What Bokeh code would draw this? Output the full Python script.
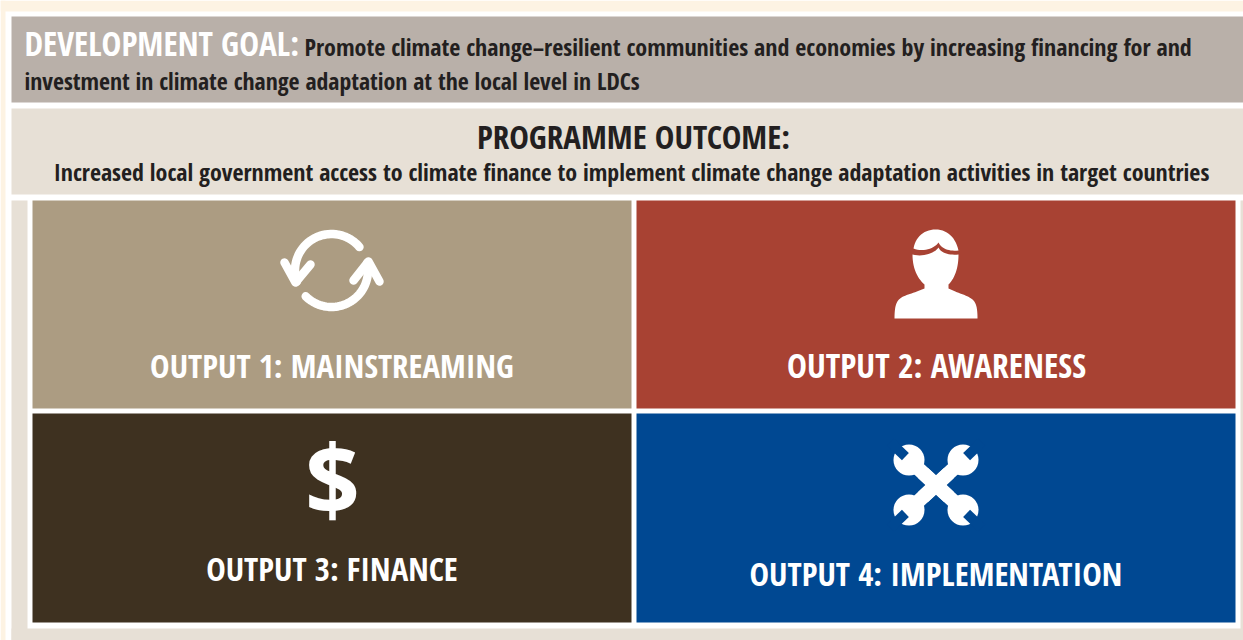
from math import cos, sin, radians
from bokeh.plotting import figure
from bokeh.embed import file_html
from bokeh.resources import INLINE
from bokeh.core.properties import value
from bokeh.models import Range1d

W, H = 1243, 640
FONT = value("Open Sans Condensed")

output_labels = ["OUTPUT 1: MAINSTREAMING", "OUTPUT 2: AWARENESS", "OUTPUT 3: FINANCE", "OUTPUT 4: IMPLEMENTATION"]
output_colors = ["#ac9c82", "#a84233", "#3e3120", "#004892"]
goal_label = "DEVELOPMENT GOAL:"
goal_line1 = "Promote climate change\u2013resilient communities and economies by increasing financing for and"
goal_line2 = "investment in climate change adaptation at the local level in LDCs"
outcome_title = "PROGRAMME OUTCOME:"
outcome_text = "Increased local government access to climate finance to implement climate change adaptation activities in target countries"

p = figure(width=W, height=H, output_backend="svg", toolbar_location=None,
           x_range=Range1d(0, W), y_range=Range1d(H, 0), min_border=0,
           background_fill_color="#ffffff", border_fill_color="#ffffff", outline_line_color=None,
           styles={"position": "absolute", "left": "0px", "top": "0px"})
p.axis.visible = False
p.grid.visible = False

def box(x0, x1, y0, y1, c):
    p.quad(left=[x0], right=[x1], top=[y0], bottom=[y1], fill_color=c, line_color=None)

def txt(x, y, s, size, color, align="left"):
    p.text([x], [y], text=[s], text_font=FONT, text_font_style="bold", text_font_size=size,
           text_color=color, text_align=align, text_baseline="alphabetic")

# frame
box(0, W, 0, 11, "#fdf3e3")
box(0, 5, 0, H, "#fdf3e3")
box(11, W, 16, 102, "#b9b0a9")
box(11, W, 108, 194, "#e7e0d6")
box(11, 27, 200, H, "#e7e0d6")
box(1240, W, 200, H, "#e7e0d6")
box(11, W, 628, H, "#e7e0d6")
# tiles
box(32, 631, 200, 408, output_colors[0])
box(636, 1235, 200, 408, output_colors[1])
box(32, 631, 413, 622, output_colors[2])
box(636, 1235, 413, 622, output_colors[3])

# text
txt(24, 42, goal_label, "33.3px", "#ffffff")
txt(304, 46, goal_line1, "24px", "#231f20")
txt(24, 80, goal_line2, "23.8px", "#231f20")
txt(633, 136, outcome_title, "33px", "#231f20", "center")
txt(631, 171, outcome_text, "23.95px", "#231f20", "center")
txt(331.5, 365, output_labels[0], "32.8px", "#ffffff", "center")
txt(936, 364, output_labels[1], "33.5px", "#ffffff", "center")
txt(331.5, 568, output_labels[2], "32.8px", "#ffffff", "center")
txt(935.5, 573, output_labels[3], "32.8px", "#ffffff", "center")

# icon 1: circular arrows
cx, cy, r = 331, 270, 36.5
def arc_pts(a0, a1, n=40):
    return ([cx + r*cos(radians(a0+(a1-a0)*i/n)) for i in range(n+1)],
            [cy + r*sin(radians(a0+(a1-a0)*i/n)) for i in range(n+1)])
for a0, a1 in ((-40, -198), (135, -12)):
    xs, ys = arc_pts(a0, a1)
    p.line(xs, ys, line_color="#ffffff", line_width=8.5, line_cap="round", line_join="round")
p.multi_line([[284, 295, 310], [353, 368, 379]], [[262, 282, 264], [280, 261, 281]],
             line_color="#ffffff", line_width=8.5, line_cap="round", line_join="round")

# icon 2: person
def bez(a, b, c, d, n=14):
    out = []
    for i in range(n+1):
        t = i/n; u = 1-t
        out.append((u**3*a[0]+3*u*u*t*b[0]+3*u*t*t*c[0]+t**3*d[0],
                    u**3*a[1]+3*u*u*t*b[1]+3*u*t*t*c[1]+t**3*d[1]))
    return out

def poly(pts, c):
    p.patch([q[0] for q in pts], [q[1] for q in pts], fill_color=c, line_color=None)

body = (bez((912, 254), (912, 268), (917, 278), (924, 284))
        + [(924, 288)]
        + bez((924, 288), (915, 292), (906, 294), (901, 297))
        + bez((901, 297), (896, 300), (894, 305), (894, 318))
        + [(977, 318)]
        + bez((977, 318), (977, 305), (975, 300), (969, 297))
        + bez((969, 297), (964, 294), (956, 292), (948, 288))
        + [(948, 284)]
        + bez((948, 284), (954, 278), (958, 268), (958, 254))
        + bez((958, 254), (948, 255), (940, 252), (938, 247))
        + bez((938, 247), (935, 252), (923, 257), (912, 254)))
poly(body, "#ffffff")
hair = (bez((913, 248), (915, 236), (924, 229), (935, 229))
        + bez((935, 229), (947, 229), (955, 237), (958, 250))
        + bez((958, 250), (948, 251), (941, 248), (938, 242))
        + bez((938, 242), (934, 248), (922, 252), (913, 248)))
poly(hair, "#ffffff")

# icon 3: dollar, real text
p.text([332], [477], text=["$"], text_font=value("Open Sans"), text_font_style="bold",
       text_font_size="96px", text_color="#ffffff", text_align="center", text_baseline="alphabetic")

# icon 4: crossed spanners
cx4, cy4 = 935.5, 484.5
heads = [(-1, -1), (1, -1), (-1, 1), (1, 1)]
for sx, sy in heads:
    hx, hy = cx4 + sx*27, cy4 + sy*25
    p.line([cx4 - sx*13, hx], [cy4 - sy*12, hy], line_color="#ffffff", line_width=14)
    p.scatter([hx], [hy], size=31, marker="circle", fill_color="#ffffff", line_color=None)
    ux, uy = sx*0.72, sy*0.69
    vx, vy = -uy, ux
    w = 5
    slot = [(hx + ux*5 + vx*w, hy + uy*5 + vy*w), (hx + ux*26 + vx*w, hy + uy*26 + vy*w),
            (hx + ux*26 - vx*w, hy + uy*26 - vy*w), (hx + ux*5 - vx*w, hy + uy*5 - vy*w)]
    poly(slot, output_colors[3])

open("out.html", "w").write(file_html(p, INLINE))
